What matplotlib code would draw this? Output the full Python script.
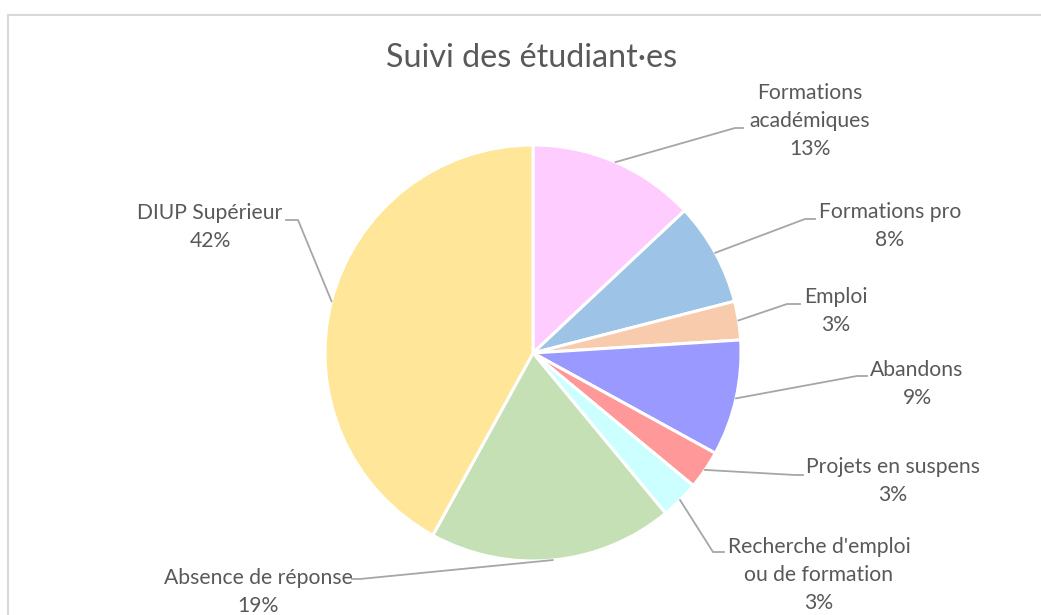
import matplotlib
matplotlib.use("Agg")
import matplotlib.pyplot as plt
from matplotlib.patches import Rectangle
import numpy as np

# ---- data ----
categories = ["Formations\nacadémiques", "Formations pro", "Emploi", "Abandons",
              "Projets en suspens", "Recherche d'emploi\nou de formation",
              "Absence de réponse", "DIUP Supérieur"]
values = [13, 8, 3, 9, 3, 3, 19, 42]
colors = ["#FFCCFF", "#9DC3E6", "#F8CBAD", "#9999FF",
          "#FF9999", "#CCFFFF", "#C5E0B4", "#FFE699"]
title = "Suivi des étudiant·es"

# ---- layout (pixel coordinates, y measured from top) ----
W, H = 1041, 615
center_px = (533, 353)
radius_px = 208
label_pos = [(810, 121), (890, 226), (836, 311), (917, 384),
             (893, 481), (819, 575), (258, 591.5), (210, 227)]
elbow_pos = [(735, 128), (805, 219), (787, 304), (857, 376),
             (795, 475), (713, 552), (360, 579), (298, 220)]
stub_end = [(743, 128), (815, 219), (800, 304), (867, 376),
            (803, 475), (724, 552), (352, 579), (286, 220)]

text_color = "#595959"
line_color = "#A6A6A6"
plt.rcParams['font.family'] = ['Lato', 'DejaVu Sans']

fig = plt.figure(figsize=(W / 100, H / 100), dpi=100)
ax = fig.add_axes([0, 0, 1, 1])
ax.set_xlim(0, W)
ax.set_ylim(0, H)
ax.set_aspect('equal')
ax.axis('off')

def P(p):
    return (p[0], H - p[1])

# frame
ax.add_patch(Rectangle((8, -20), W + 20, H - 15 + 20, fill=False,
                       edgecolor="#D9D9D9", linewidth=1.5))

cx, cy = P(center_px)
wedges, _ = ax.pie(values, colors=colors, startangle=90, counterclock=False,
                   center=(cx, cy), radius=radius_px, frame=True,
                   wedgeprops=dict(edgecolor="white", linewidth=2.2))
ax.set_xlim(0, W)
ax.set_ylim(0, H)
ax.axis('off')

for i, w in enumerate(wedges):
    mid = np.deg2rad((w.theta1 + w.theta2) / 2)
    sx = cx + radius_px * np.cos(mid)
    sy = cy + radius_px * np.sin(mid)
    ex, ey = P(elbow_pos[i])
    tx, ty = P(stub_end[i])
    ax.plot([sx, ex, tx], [sy, ey, ty], color=line_color, lw=1.3,
            solid_joinstyle='miter', zorder=1)
    lx, ly = P(label_pos[i])
    ax.text(lx, ly, f"{categories[i]}\n{values[i]}%", ha='center', va='center',
            fontsize=15.2, color=text_color, linespacing=1.5)

tx, ty = P((532, 58))
ax.text(tx, ty, title, ha='center', va='center', fontsize=23.2, color=text_color)

fig.savefig("out.png", dpi=100)
